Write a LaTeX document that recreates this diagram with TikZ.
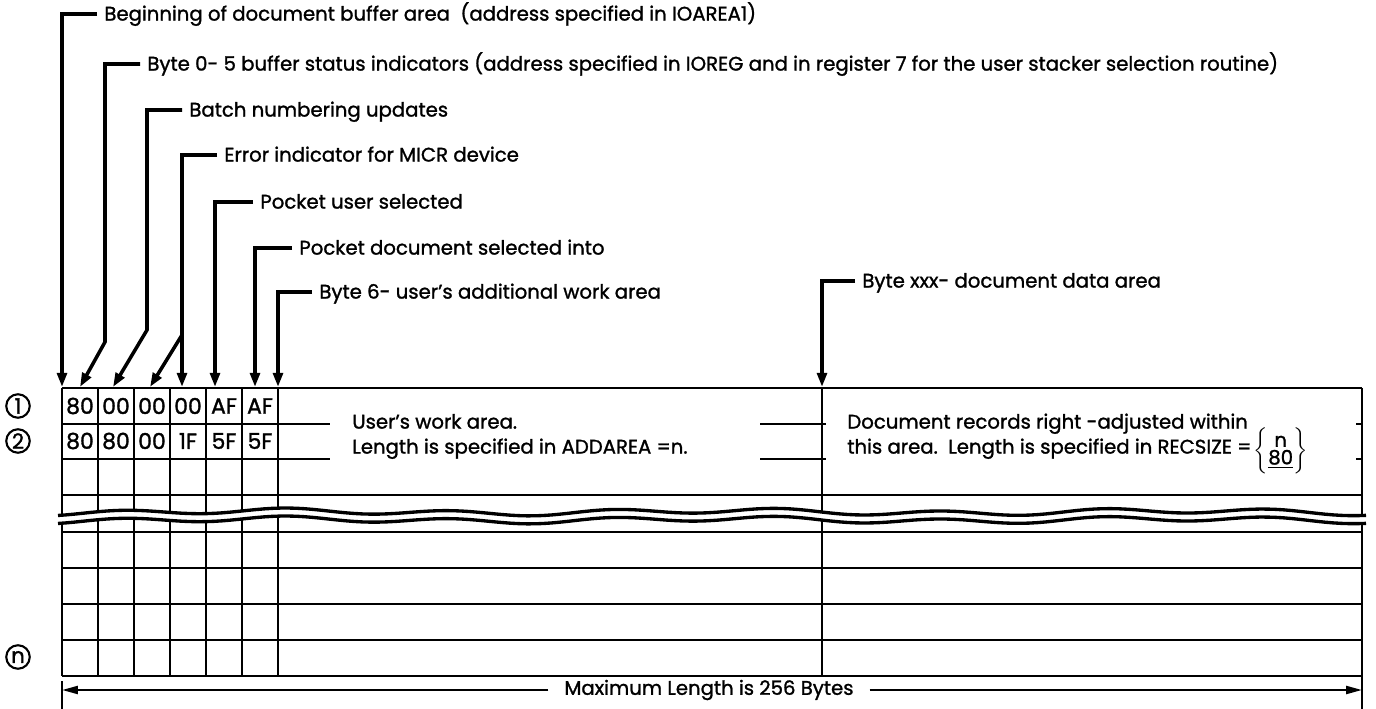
\documentclass[tikz,border=0pt]{standalone}
\usepackage{amsmath}
\usepackage{fontspec}
\setmainfont{Poppins}[FakeBold=1.3]
\usetikzlibrary{positioning,arrows.meta,calc}

\begin{document}
\begin{tikzpicture}[
  x=0.02cm, y=-0.02cm,
  font=\fontsize{11.2}{13}\selectfont,
  lbl/.style={anchor=west, inner xsep=4pt, inner ysep=0pt,
              text height=7.5pt, text depth=0pt},
  txt/.style={anchor=west, inner sep=0pt, text height=7.5pt, text depth=0pt},
  cell/.style={inner sep=0pt, font=\fontsize{12.5}{14}\selectfont},
  num/.style={draw, circle, line width=1.2pt, inner sep=0pt, minimum size=0.47cm,
              font=\fontsize{12}{14}\selectfont},
  lead/.style={line width=2pt, -{Triangle[length=8pt,width=5.5pt]}},
  grid/.style={line width=1.4pt},
  wavy/.style={line width=1.9pt},
  dim/.style={line width=1.3pt, -{Triangle[length=9pt,width=4.5pt]}},
  declare function={wv(\x)=512+2.5*sin(2.2*\x)+1.5*sin(0.8*\x+50);}
]
\useasboundingbox (0,0) rectangle (1376,709);

% callout labels
\node[lbl] (begin)  at (97,14)  {Beginning of document buffer area\ \ (address specified in IOAREA1)};
\node[lbl] (status) at (140,64) {Byte 0- 5 buffer status indicators (address specified in IOREG and in register 7 for the user stacker selection routine)};
\node[lbl] (batch)  at (182,110) {Batch numbering updates};
\node[lbl] (micr)   at (217,155) {Error indicator for MICR device};
\node[lbl] (usrpkt) at (253,202) {Pocket user selected};
\node[lbl] (docpkt) at (292,248) {Pocket document selected into};
\node[lbl] (work)   at (312,292) {Byte 6- user's additional work area};
\node[lbl] (data)   at (855,281) {Byte xxx- document data area};

% arrow targets on top edge of buffer
\coordinate (a0) at (62,387);
\coordinate (k1) at (105,342);
\coordinate (a1) at (80,387);
\coordinate (k2) at (147,330);
\coordinate (a2) at (113,387);
\coordinate (k3) at (182,335);
\coordinate (a3) at (150,387);
\coordinate (a4) at (182,387);
\coordinate (a5) at (215,387);
\coordinate (a6) at (255,387);
\coordinate (a7) at (278,387);
\coordinate (a8) at (822,387);

\draw[lead] (begin.west) -| (a0);
\draw[lead] (status.west) -| (k1) -- (a1);
\draw[lead] (batch.west) -| (k2) -- (a2);
\draw[lead] (micr.west) -| (a4);
\draw[lead] (k3) -- (a3);
\draw[lead] (usrpkt.west) -| (a5);
\draw[lead] (docpkt.west) -| (a6);
\draw[lead] (work.west) -| (a7);
\draw[lead] (data.west) -| (a8);

% buffer grid
\draw[grid] (62,388) -- (1362,388);
\draw[grid] (62,495) -- (1362,495);
\foreach \r in {424,459}
  \draw[grid] (62,\r) -- (330,\r) (760,\r) -- (826,\r) (1356,\r) -- (1362,\r);
\foreach \r in {532,568,604,640,676}
  \draw[grid] (62,\r) -- (1362,\r);
\foreach \c in {62,98,134,170,206,242,278,822,1362} {
  \draw[grid] (\c,388) -- (\c,{wv(\c)});
  \draw[grid] (\c,{wv(\c)+8}) -- (\c,676);
}
% break in the buffer
\draw[wavy] plot[domain=58:1366, samples=160] (\x,{wv(\x)});
\draw[wavy] plot[domain=58:1366, samples=160] (\x,{wv(\x)+8});

% record numbers
\node[num] (c1) at (18,406) {1};
\node[num] (c2) at (18,441) {2};
\node[num] (cn) at (18,657) {n};

% status bytes
\foreach \v [count=\i from 0] in {80,00,00,00,AF,AF}
  \node[cell] (ra\i) at ({80+36*\i},406) {\v};
\foreach \v [count=\i from 0] in {80,80,00,1F,5F,5F}
  \node[cell] (rb\i) at ({80+36*\i},441) {\v};

% area texts
\node[txt] (usr1) at (352,422) {User's work area.};
\node[txt] (usr2) at (352,447) {Length is specified in ADDAREA =n.};
\node[txt] (doc1) at (847,422) {Document records right -adjusted within};
\node[txt] (doc2) at (847,447) {this area.\ \ Length is specified in RECSIZE =};
\node[anchor=west, inner sep=1pt] (recsz) at ($(doc2.east)+(0,4)$)
  {$\left\{\begin{array}{@{}c@{}}\text{n}\\[-3pt]\underline{\text{80}}\end{array}\right\}$};

% overall length
\node[inner xsep=9pt] (maxlen) at (709,690) {Maximum Length is 256 Bytes};
\coordinate (dl) at (62,690);
\coordinate (dr) at (1362,690);
\draw[dim] (maxlen.west) -- (dl);
\draw[dim] (maxlen.east) -- (dr);
\draw[grid] (62,681) -- (62,709);
\draw[grid] (1362,672) -- (1362,709);
\end{tikzpicture}
\end{document}
